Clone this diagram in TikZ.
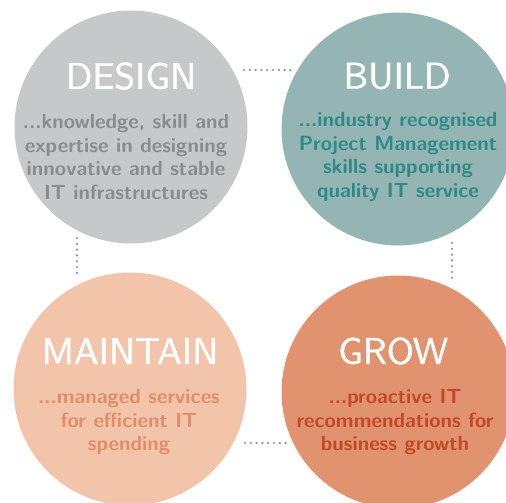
\documentclass[tikz,border=0pt]{standalone}
\usepackage{fontspec}
\newfontfamily\titlefont{lmsans10-regular.otf}[FakeBold=1.2]
\definecolor{designfill}{HTML}{C7C8CA}
\definecolor{designtext}{HTML}{8A8B8D}
\definecolor{buildfill}{HTML}{94B5B4}
\definecolor{buildtext}{HTML}{2E8A84}
\definecolor{maintfill}{HTML}{F2C4AA}
\definecolor{mainttext}{HTML}{E08E6A}
\definecolor{growfill}{HTML}{E1936F}
\definecolor{growtext}{HTML}{C4472B}
\definecolor{dotgray}{HTML}{8C8C8E}
\tikzset{
  circ/.style={circle, minimum size=233pt, inner sep=0pt, draw=none},
  title/.style={font=\titlefont\fontsize{37}{37}\selectfont, text=white, inner sep=0pt},
  body/.style={font=\sffamily\bfseries\fontsize{20.5}{23.4}\selectfont, align=center, inner sep=0pt},
  dotline/.style={draw=dotgray, line width=2.4pt, line cap=round, dash pattern=on 0pt off 5.8pt}
}
\begin{document}
\begin{tikzpicture}[x=1pt,y=-1pt]
\useasboundingbox (0,0) rectangle (506,503);
\begin{scope}
\clip (0,0) rectangle (506,503);
\node[circ, fill=designfill] (design) at (131,127) {};
\node[circ, fill=buildfill] (build) at (398,129) {};
\node[circ, fill=maintfill] (maintain) at (130,389) {};
\node[circ, fill=growfill] (grow) at (398,392) {};
\end{scope}
\node[title] (t1) at (131,76) {DESIGN};
\node[title] (t2) at (397,76) {BUILD};
\node[title] (t3) at (130,351) {MAINTAIN};
\node[title] (t4) at (393,351) {GROW};
\node[body, text=designtext] (b1) at (126,157) {...knowledge, skill and\\expertise in designing\\innovative and stable\\IT infrastructures};
\node[body, text=buildtext] (b2) at (398,157) {...industry recognised\\Project Management\\skills supporting\\quality IT service};
\node[body, text=mainttext] (b3) at (129,422) {...managed services\\for efficient IT\\spending};
\node[body, text=growtext] (b4) at (395,422) {...proactive IT\\recommendations for\\business growth};
\coordinate (d1a) at (244,70);
\coordinate (d1b) at (291,70);
\coordinate (d2a) at (77,238);
\coordinate (d2b) at (77,278);
\coordinate (d3a) at (452,243);
\coordinate (d3b) at (452,278);
\coordinate (d4a) at (245,443);
\coordinate (d4b) at (286,443);
\draw[dotline] (d1a) -- (d1b);
\draw[dotline] (d2a) -- (d2b);
\draw[dotline] (d3a) -- (d3b);
\draw[dotline] (d4a) -- (d4b);
\end{tikzpicture}
\end{document}
